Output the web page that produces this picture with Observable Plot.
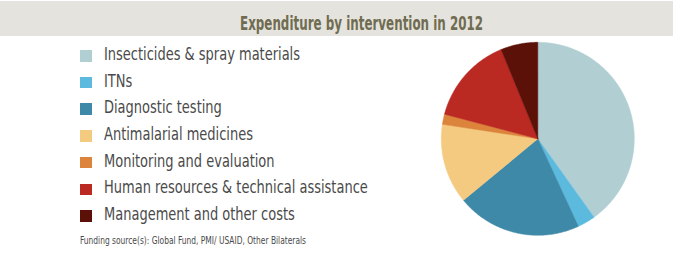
<!DOCTYPE html>
<html>
<head>
<meta charset="utf-8">
<script src="https://cdn.jsdelivr.net/npm/d3@7"></script>
<script src="https://cdn.jsdelivr.net/npm/@observablehq/plot@0.6"></script>
<style>
  html, body { margin: 0; padding: 0; background: #fff; }
  #wrap { position: relative; width: 688px; height: 255px; overflow: hidden; }
  #band { position: absolute; left: 0; top: 1px; width: 673px; height: 35px; background: #e5e3de; }
  .t { position: absolute; white-space: nowrap; transform-origin: 0 0; line-height: 1; }
  .sw { position: absolute; width: 11.5px; height: 11.5px; }
  #chart { position: absolute; left: 0; top: 0; }
</style>
</head>
<body>
<div id="wrap">
  <div id="band"></div>
  <div id="chart"></div>
</div>
<script>
const title = "Expenditure by intervention in 2012";
const caption = "Funding source(s): Global Fund, PMI/ USAID, Other Bilaterals";
const categories = [
  "Insecticides & spray materials",
  "ITNs",
  "Diagnostic testing",
  "Antimalarial medicines",
  "Monitoring and evaluation",
  "Human resources & technical assistance",
  "Management and other costs"
];
const shares = [40.1, 3.0, 20.9, 13.4, 1.7, 14.7, 6.2];
const colors = ["#b1cfd3", "#5cbade", "#3f89a8", "#f4ca80", "#dc843b", "#bb2923", "#5b1107"];

const data = categories.map((name, i) => ({name, share: shares[i]}));

// pie geometry (unit circle), computed from the data with d3.pie
const arcs = d3.pie().sort(null).value(d => d.share)(data);
const pts = arcs.flatMap(a => {
  const name = a.data.name;
  const n = Math.max(2, Math.ceil((a.endAngle - a.startAngle) / (Math.PI / 360)));
  const out = [{name, x: 0, y: 0}];
  for (let i = 0; i <= n; i++) {
    const t = a.startAngle + (a.endAngle - a.startAngle) * i / n;
    out.push({name, x: Math.sin(t), y: Math.cos(t)});
  }
  out.push({name, x: 0, y: 0});
  return out;
});

const cx = 537.3, cy = 138.3, r = 96.5;
const plot = Plot.plot({
  width: 688,
  height: 255,
  margin: 0,
  style: {background: "transparent"},
  x: {domain: [-1, 1], range: [cx - r, cx + r], axis: null},
  y: {domain: [-1, 1], range: [cy + r, cy - r], axis: null},
  color: {domain: categories, range: colors},
  marks: [
    Plot.line(pts, {x: "x", y: "y", z: "name", fill: "name", stroke: "name", strokeWidth: 0.5, curve: "linear"})
  ]
});
document.getElementById("chart").appendChild(plot);

// text helpers
const wrap = document.getElementById("wrap");
const cvs = document.createElement("canvas").getContext("2d");
function measure(text, font) { cvs.font = font; return cvs.measureText(text).width; }

function addText(text, {left, baseline, size, weight = 400, family, color, scale = 1}) {
  const el = document.createElement("div");
  el.className = "t";
  el.textContent = text;
  el.style.fontFamily = family;
  el.style.fontSize = size + "px";
  el.style.fontWeight = weight;
  el.style.color = color;
  el.style.left = left + "px";
  el.style.top = (baseline - size * 0.9) + "px";
  el.style.transform = `scaleX(${scale})`;
  wrap.appendChild(el);
  return el;
}

const narrow = '"Liberation Sans Narrow", "DejaVu Sans Condensed", "Liberation Sans", sans-serif';

// title
{
  const size = 19, weight = 700;
  const w = measure(title, `${weight} ${size}px ${narrow}`);
  addText(title, {left: 240, baseline: 30.7, size, weight, family: narrow, color: "#6f6c51", scale: 243 / w});
}

// legend
{
  const size = 17.5;
  const w = measure(categories[0], `400 ${size}px ${narrow}`);
  const s = 196 / w;
  categories.forEach((name, i) => {
    const base = 61.7 + i * 26.7;
    const sw = document.createElement("div");
    sw.className = "sw";
    sw.style.left = "80px";
    sw.style.top = (base - 11.7) + "px";
    sw.style.background = colors[i];
    wrap.appendChild(sw);
    addText(name, {left: 103.7, baseline: base, size, family: narrow, color: "#4a4a4a", scale: s});
  });
}

// caption
{
  const size = 10.5;
  const w = measure(caption, `400 ${size}px ${narrow}`);
  addText(caption, {left: 79.5, baseline: 244, size, family: narrow, color: "#4a4a4a", scale: 226 / w});
}
</script>
</body>
</html>
